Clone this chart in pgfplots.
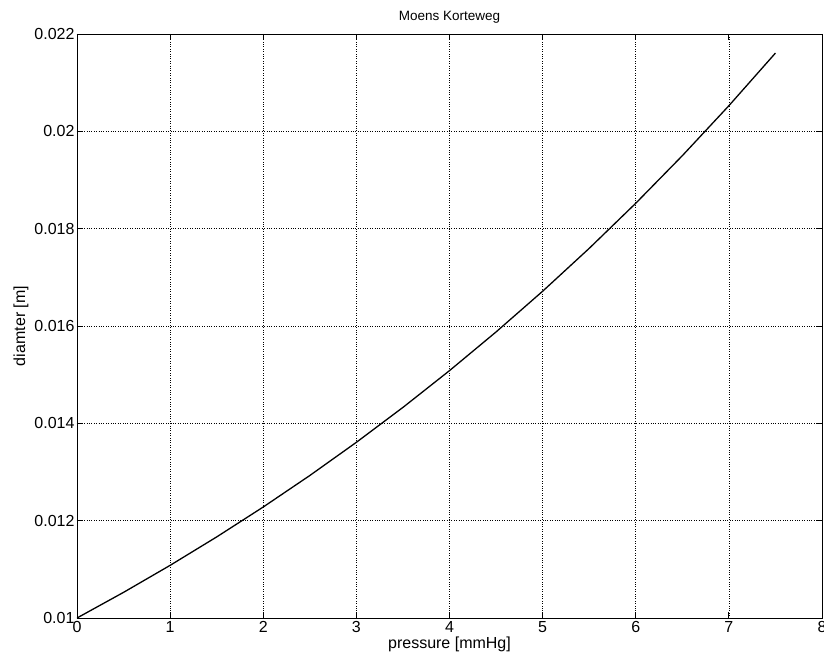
\documentclass[border=0pt]{standalone}
\usepackage{fontspec}
\setmainfont{Liberation Sans}
\usepackage{pgfplots}
\pgfplotsset{compat=1.18}
\begin{document}
\begin{tikzpicture}
\begin{axis}[
  at={(0,0)}, anchor=south west,
  scale only axis, width=745pt, height=584pt,
  xmin=0, xmax=8, ymin=0.01, ymax=0.022,
  xtick={0,1,...,8},
  ytick={0.01,0.012,0.014,0.016,0.018,0.02,0.022},
  scaled y ticks=false,
  yticklabel style={/pgf/number format/fixed,/pgf/number format/precision=3, xshift=1pt},
  /pgf/number format/assume math mode=true,
  tick align=inside, tick pos=both,
  major tick length=6pt,
  grid=major,
  major grid style={black, dotted, line width=0.6pt},
  axis line style={black, line width=0.8pt},
  tick style={black, line width=0.8pt},
  ticklabel style={font=\fontsize{16}{18}\selectfont},
  xlabel={pressure [mmHg]}, ylabel={diamter [m]},
  label style={font=\fontsize{16}{18}\selectfont},
  xlabel style={yshift=3pt},
  ylabel style={yshift=-1pt},
  title={Moens Korteweg},
  title style={font=\fontsize{13.5}{15}\selectfont, yshift=1pt},
]
\addplot[black, line width=1.3pt] coordinates {
(0,0.01) (0.5,0.010527) (1,0.011082) (1.5,0.011666) (2,0.012281)
(2.5,0.012928) (3,0.013610) (3.5,0.014327) (4,0.015083) (4.5,0.015878)
(5,0.016714) (5.5,0.017595) (6,0.018522) (6.5,0.019499) (7,0.020526)
(7.5,0.021608)
};
\end{axis}
\pgfresetboundingbox
\path (-77pt,-46pt) rectangle (747pt,618pt);
\end{tikzpicture}
\end{document}
